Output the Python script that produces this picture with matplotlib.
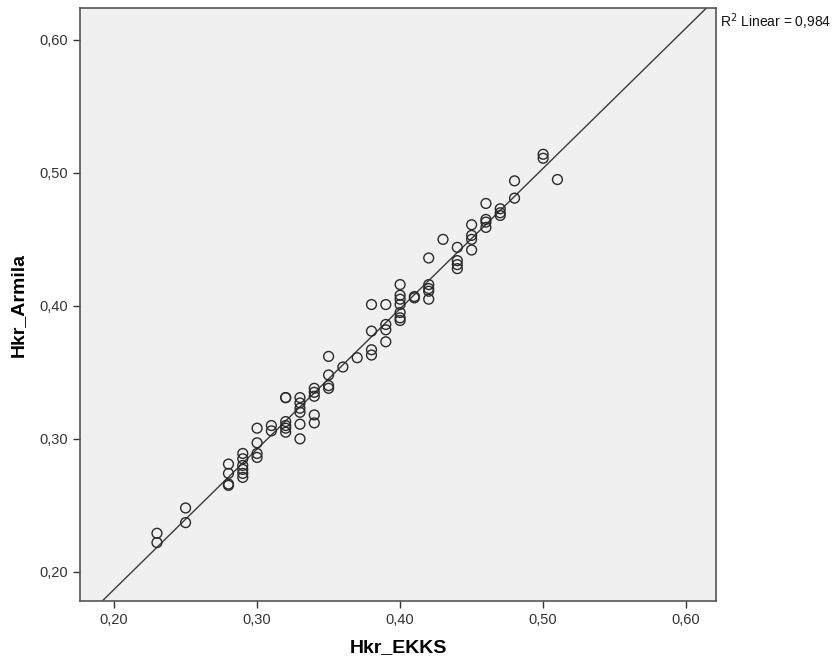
import numpy as np
import matplotlib
matplotlib.use("Agg")
import matplotlib.pyplot as plt
from matplotlib.ticker import FuncFormatter

plt.rcParams["font.family"] = ["Liberation Sans", "DejaVu Sans"]

# Hkr_EKKS (x) vs Hkr_Armila (y)
hkr_ekks = [
    0.23, 0.23,
    0.25, 0.25,
    0.28, 0.28, 0.28, 0.28,
    0.29, 0.29, 0.29, 0.29, 0.29, 0.29,
    0.30, 0.30, 0.30, 0.30,
    0.31, 0.31,
    0.32, 0.32, 0.32, 0.32, 0.32, 0.32,
    0.33, 0.33, 0.33, 0.33, 0.33, 0.33,
    0.34, 0.34, 0.34, 0.34, 0.34,
    0.35, 0.35, 0.35, 0.35,
    0.36, 0.37,
    0.38, 0.38, 0.38, 0.38,
    0.39, 0.39, 0.39, 0.39,
    0.40, 0.40, 0.40, 0.40, 0.40, 0.40, 0.40,
    0.41, 0.41,
    0.42, 0.42, 0.42, 0.42, 0.42,
    0.43,
    0.44, 0.44, 0.44, 0.44,
    0.45, 0.45, 0.45, 0.45,
    0.46, 0.46, 0.46, 0.46,
    0.47, 0.47, 0.47,
    0.48, 0.48,
    0.50, 0.50,
    0.51,
]
hkr_armila = [
    0.229, 0.222,
    0.248, 0.237,
    0.281, 0.274, 0.266, 0.265,
    0.289, 0.285, 0.280, 0.277, 0.274, 0.271,
    0.308, 0.297, 0.289, 0.286,
    0.310, 0.306,
    0.331, 0.331, 0.313, 0.310, 0.308, 0.305,
    0.331, 0.327, 0.323, 0.320, 0.311, 0.300,
    0.338, 0.335, 0.332, 0.318, 0.312,
    0.362, 0.348, 0.340, 0.338,
    0.354, 0.361,
    0.401, 0.381, 0.367, 0.363,
    0.401, 0.386, 0.382, 0.373,
    0.416, 0.408, 0.405, 0.401, 0.395, 0.391, 0.389,
    0.407, 0.406,
    0.436, 0.416, 0.413, 0.411, 0.405,
    0.450,
    0.444, 0.434, 0.431, 0.428,
    0.461, 0.453, 0.450, 0.442,
    0.477, 0.465, 0.463, 0.459,
    0.473, 0.470, 0.468,
    0.494, 0.481,
    0.514, 0.511,
    0.495,
]
r2_text = "R$^2$ Linear = 0,984"

x = np.array(hkr_ekks)
y = np.array(hkr_armila)
slope, intercept = np.polyfit(x, y, 1)

fig = plt.figure(figsize=(8.36, 6.66), dpi=100)
ax = fig.add_axes([0.0957, 0.0975, 0.761, 0.8905])
ax.set_facecolor("#f0f0f0")

xmin, xmax = 0.1762, 0.621
ymin, ymax = 0.178, 0.624
ax.set_xlim(xmin, xmax)
ax.set_ylim(ymin, ymax)

ax.scatter(x, y, s=50, facecolors="none", edgecolors="#2a2a2a", linewidths=1.0, zorder=3)

xl = np.array([xmin, xmax])
ax.plot(xl, slope * xl + intercept, color="#3a3a3a", lw=1.0, zorder=2)

ticks = [0.20, 0.30, 0.40, 0.50, 0.60]
ax.set_xticks(ticks)
ax.set_yticks(ticks)
fmt = FuncFormatter(lambda v, p: f"{v:.2f}".replace(".", ","))
ax.xaxis.set_major_formatter(fmt)
ax.yaxis.set_major_formatter(fmt)
ax.tick_params(axis="both", labelsize=10.5, color="#333333", labelcolor="#333333",
               length=5, width=1)

for s in ax.spines.values():
    s.set_color("#555555")
    s.set_linewidth(1.2)

ax.set_xlabel("Hkr_EKKS", fontsize=14, fontweight="bold", labelpad=9)
ax.set_ylabel("Hkr_Armila", fontsize=14, fontweight="bold", labelpad=9)

fig.text(0.861, 0.967, r2_text, fontsize=10, color="#111111", ha="left", va="center")

fig.savefig("out.png", dpi=100)
